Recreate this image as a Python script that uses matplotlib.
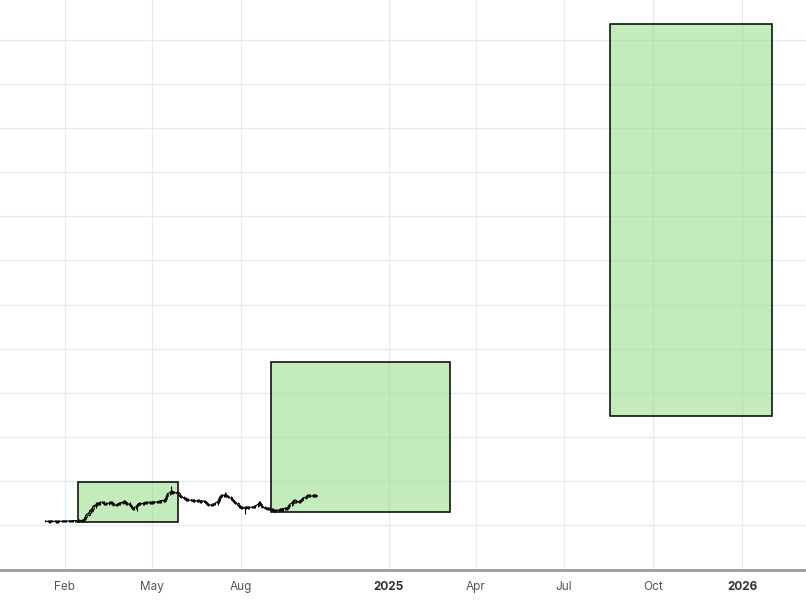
import numpy as np
import matplotlib.pyplot as plt
import matplotlib.dates as mdates
import pandas as pd

# daily closes, one row per week (first row = Fri Jan 12 2024)
closes = [
    10.85,
    10.85, 10.8, 10.85, 10.9, 10.85,
    10.85, 10.8, 10.8, 10.85, 10.85,
    10.85, 10.9, 10.85, 10.85, 10.9,
    10.9, 10.95, 10.9, 10.95, 11.0,
    11.0, 11.0, 10.95, 11.0, 11.05,
    11.0, 11.1, 11.3, 11.8, 12.3,
    12.8, 13.3, 13.1, 13.7, 14.2,
    14.6, 15.0, 14.8, 14.9, 15.1,
    15.2, 15.0, 14.8, 14.7, 14.9,
    15.0, 15.2, 15.1, 14.9, 14.6,
    14.5, 14.7, 14.8, 14.9, 15.0,
    15.2, 15.4, 15.1, 14.9, 15.0,
    14.6, 14.3, 13.9, 13.7, 13.9,
    14.2, 14.6, 14.8, 14.9, 14.8,
    14.9, 15.0, 15.1, 15.0, 15.1,
    15.2, 15.0, 15.1, 15.3, 15.2,
    15.2, 15.3, 15.4, 15.3, 15.5,
    15.6, 15.5, 15.9, 16.5, 17.1,
    17.4, 17.6, 17.3, 17.5, 17.4,
    17.3, 17.2, 16.9, 16.5, 16.3,
    16.2, 16.0, 15.8, 15.9, 15.7,
    15.6, 15.7, 15.5, 15.6, 15.4,
    15.5, 15.6, 15.4, 15.3, 15.5,
    15.4, 15.2, 15.0, 14.8, 14.6,
    14.5, 14.6, 14.8, 14.7, 14.9,
    15.3, 15.8, 16.3, 16.6, 16.8,
    16.7, 16.9, 16.6, 16.5, 16.3,
    16.0, 15.7, 15.5, 15.2, 15.0,
    14.6, 14.2, 14.0, 13.9, 14.1,
    13.8, 14.0, 14.1, 13.9, 14.0,
    14.0, 14.1, 14.0, 14.2, 14.3,
    14.8, 15.1, 14.7, 14.3, 14.0,
    13.9, 13.8, 13.7, 13.8, 13.7,
    13.5, 13.4, 13.3, 13.2, 13.3,
    13.4, 13.5, 13.6, 13.5, 13.7,
    13.8, 13.7, 13.9, 14.2, 14.6,
    15.1, 15.4, 15.6, 15.3, 15.5,
    15.2, 15.5, 15.6, 15.9, 16.1,
    16.3, 16.6, 16.8, 16.7, 16.5,
    16.6, 16.8, 16.7, 16.6, 16.7,
]
first_open = 10.85
wick = 0.25
# a few notable wick extremes
high_override = {"2024-05-21": 18.8, "2024-07-16": 17.4}
low_override = {"2024-08-05": 12.4, "2024-04-16": 13.1}

# target zones: start, end, low, high
zone_start = ["2024-02-15", "2024-09-01", "2025-08-17"]
zone_end = ["2024-05-28", "2025-03-05", "2026-02-01"]
zone_low = [10.68, 12.95, 34.7]
zone_high = [19.75, 46.96, 123.6]

tick_dates = ["2024-02-01", "2024-05-01", "2024-08-01", "2025-01-01",
              "2025-04-01", "2025-07-01", "2025-10-01", "2026-01-01"]
tick_labels = ["Feb", "May", "Aug", "2025", "Apr", "Jul", "Oct", "2026"]

dates = pd.bdate_range("2024-01-12", periods=len(closes))
df = pd.DataFrame({"close": closes}, index=dates)
df["open"] = df["close"].shift(1).fillna(first_open)
df["high"] = df[["open", "close"]].max(axis=1) + wick
df["low"] = df[["open", "close"]].min(axis=1) - wick
for d, v in high_override.items():
    df.loc[d, "high"] = v
for d, v in low_override.items():
    df.loc[d, "low"] = v

plt.rcParams['font.family'] = ['Inter', 'DejaVu Sans']
fig = plt.figure(figsize=(8.06, 6), dpi=100)
ax = fig.add_axes([0, 30 / 600, 1, 570 / 600])

# zones
for s, e, lo, hi in zip(zone_start, zone_end, zone_low, zone_high):
    s = mdates.date2num(pd.Timestamp(s))
    e = mdates.date2num(pd.Timestamp(e))
    ax.add_patch(plt.Rectangle((s, lo), e - s, hi - lo, facecolor='#92db83',
                               alpha=0.55, edgecolor='none', zorder=2))
    ax.add_patch(plt.Rectangle((s, lo), e - s, hi - lo, facecolor='none',
                               edgecolor='black', linewidth=1.1, zorder=3))

# candles
x = mdates.date2num(df.index)
up = df["close"] >= df["open"]
ax.plot(x, df["close"], color='black', linewidth=0.8, zorder=4)
ax.vlines(x, df["low"], df["high"], color='black', linewidth=0.8, zorder=4)
body = (df["close"] - df["open"]).abs().clip(lower=0.08)
bottom = df[["open", "close"]].min(axis=1)
ax.bar(x[up], body[up], bottom=bottom[up], width=1.3, color='#6a9a5e',
       edgecolor='black', linewidth=0.5, zorder=5)
ax.bar(x[~up], body[~up], bottom=bottom[~up], width=1.3, color='#e0322e',
       edgecolor='black', linewidth=0.5, zorder=5)

ax.set_xlim(pd.Timestamp("2023-11-26"), pd.Timestamp("2026-03-08"))
ax.set_ylim(-0.2, 129.05)

ax.set_yticks(np.arange(10, 130, 10))
ax.set_xticks([mdates.date2num(pd.Timestamp(d)) for d in tick_dates])
ax.set_xticklabels(tick_labels)
ax.grid(True, color='#e6ebf3', linewidth=1, zorder=0)
ax.set_axisbelow(True)
ax.tick_params(axis='y', left=False, labelleft=False)
ax.tick_params(axis='x', length=0, pad=8, labelsize=8.5, labelcolor='#555555')
for lbl in ax.get_xticklabels():
    if lbl.get_text().isdigit():
        lbl.set_fontweight('bold')
        lbl.set_color('#333333')

for side in ['top', 'left', 'right']:
    ax.spines[side].set_visible(False)
ax.spines['bottom'].set_color('#9a9a9a')
ax.spines['bottom'].set_linewidth(2)

plt.savefig('out.png', dpi=100)
